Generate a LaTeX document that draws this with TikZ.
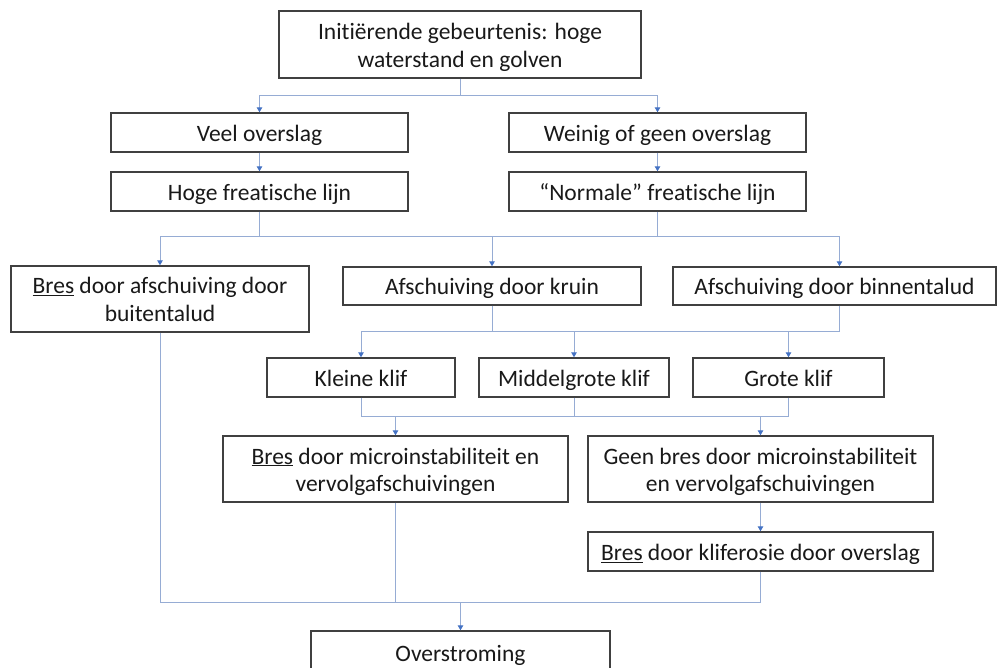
\documentclass[tikz,border=0pt]{standalone}
\usepackage{fontspec}
\setmainfont{Carlito}[Ligatures={TeX,NoCommon}]
\usetikzlibrary{arrows.meta}
\definecolor{boxgray}{RGB}{64,64,64}
\definecolor{linecol}{RGB}{150,172,212}
\definecolor{tipcol}{RGB}{68,114,196}
\definecolor{textcol}{RGB}{25,25,25}
\begin{document}
\begin{tikzpicture}[x=1pt,y=-1pt,
  box/.style={draw=boxgray, line width=1.4pt, inner sep=0pt, align=center,
    font=\fontsize{23.5}{28}\selectfont, text=textcol},
  one/.style={box, text height=18pt, text depth=0pt},
  two/.style={box, text height=46pt, text depth=0pt},
  conn/.style={draw=linecol, line width=1pt},
  arr/.style={conn, -{Triangle[length=5pt,width=5.5pt,color=tipcol,fill=tipcol]}}]
\useasboundingbox (0,0) rectangle (997,668);
\fill[white] (0,0) rectangle (997,668);
\clip (0,0) rectangle (997,668);

\node[two, minimum width=362pt, minimum height=67pt] (init) at (460,44.5)
  {Initiërende gebeurtenis: hoge\\waterstand en golven};
\node[one, minimum width=297pt, minimum height=39pt] (veel) at (259.5,132.5) {Veel overslag};
\node[one, minimum width=297pt, minimum height=39pt] (hoge) at (259.5,191.5) {Hoge freatische lijn};
\node[one, minimum width=297pt, minimum height=39pt] (weinig) at (657.5,132.5) {Weinig of geen overslag};
\node[one, minimum width=297pt, minimum height=39pt] (normale) at (657.5,191.5) {“Normale” freatische lijn};

\node[two, minimum width=298pt, minimum height=66pt] (buiten) at (160,299)
  {\underline{Bres} door afschuiving door\\buitentalud};
\node[one, minimum width=298pt, minimum height=38pt] (kruin) at (492,286) {Afschuiving door kruin};
\node[one, minimum width=323pt, minimum height=38pt] (binnen) at (834.5,286) {Afschuiving door binnentalud};

\node[one, minimum width=188pt, minimum height=39pt] (kleine) at (361,377.5) {Kleine klif};
\node[one, minimum width=190pt, minimum height=39pt] (middel) at (574,377.5) {Middelgrote klif};
\node[one, minimum width=191pt, minimum height=39pt] (grote) at (788.5,377.5) {Grote klif};

\node[two, minimum width=345pt, minimum height=66pt] (bresmicro) at (395.5,469)
  {\underline{Bres} door microinstabiliteit en\\vervolgafschuivingen};
\node[two, minimum width=345pt, minimum height=66pt] (geen) at (760.5,469)
  {Geen bres door microinstabiliteit\\en vervolgafschuivingen};
\node[one, minimum width=345pt, minimum height=39pt] (klif) at (760.5,551.5)
  {\underline{Bres} door kliferosie door overslag};

\node[one, minimum width=299pt, minimum height=42pt] (over) at (460.5,652) {Overstroming};

% level 1
\coordinate (b1) at (460,96);
\draw[conn] (init.south) -- (b1);
\draw[arr] (b1) -| (veel.north);
\draw[arr] (b1) -| (weinig.north);
\draw[arr] (veel.south) -- (hoge.north);
\draw[arr] (weinig.south) -- (normale.north);

% level 2
\coordinate (b2) at (492,237);
\draw[conn] (hoge.south) |- (b2);
\draw[conn] (normale.south) |- (b2);
\draw[arr] (b2) -| (buiten.north);
\draw[arr] (b2) -- (kruin.north);
\draw[arr] (b2) -| ([xshift=5pt]binnen.north);

% level 3
\coordinate (b3) at (492,332);
\draw[conn] (kruin.south) -- (b3);
\draw[conn] ([xshift=5pt]binnen.south) |- (b3);
\draw[arr] (b3) -| (kleine.north);
\draw[arr] (b3) -| (middel.north);
\draw[arr] (b3) -| (grote.north);

% level 4
\coordinate (b4) at (574,417);
\draw[conn] (kleine.south) |- (b4);
\draw[conn] (middel.south) -- (b4);
\draw[conn] (grote.south) |- (b4);
\draw[arr] (b4) -| (bresmicro.north);
\draw[arr] (b4) -| (geen.north);
\draw[arr] (geen.south) -- (klif.north);

% level 5
\coordinate (b5) at (460.5,602);
\draw[conn] (buiten.south) |- (b5);
\draw[conn] (bresmicro.south) |- (b5);
\draw[conn] (klif.south) |- (b5);
\draw[arr] (b5) -- (over.north);
\end{tikzpicture}
\end{document}
